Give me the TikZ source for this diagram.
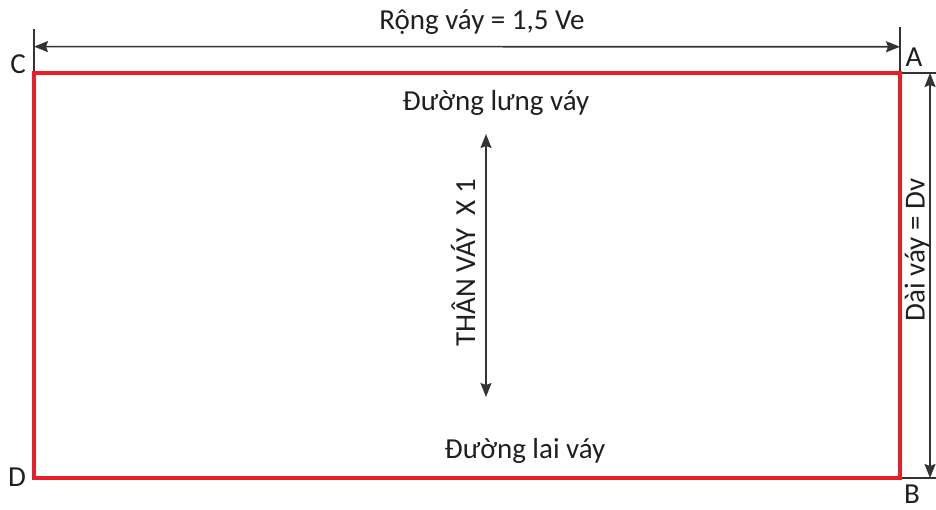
\documentclass[tikz,border=0pt]{standalone}
\usepackage{fontspec}
\setmainfont{Carlito}
\usepackage{tikz}
\usetikzlibrary{arrows.meta,positioning,calc}
\definecolor{vienred}{RGB}{232,30,40}

\begin{document}
\begin{tikzpicture}[x=1pt, y=-1pt,
  lbl/.style={font=\fontsize{29}{33}\selectfont, text=black!88, inner sep=0pt},
  vien/.style={draw=vienred, line width=3.5pt},
  dim/.style={draw=black!80, line width=1.6pt},
  mui/.style={dim, {Stealth[length=14pt,width=11pt,inset=2pt]}-{Stealth[length=14pt,width=11pt,inset=2pt]}}]
\useasboundingbox (0,0) rectangle (936,509);

% các góc
\coordinate (C) at (34,73);
\coordinate (A) at (900,73);
\coordinate (B) at (900,478);
\coordinate (D) at (34,478);
\coordinate (Ctop) at (34,29);
\coordinate (Atop) at (900,27);
\coordinate (Aend) at (936,73);
\coordinate (Bend) at (936,478);

% đường gióng
\draw[dim] (C) -- (Ctop);
\draw[dim] (A) -- (Atop);
\draw[dim] (A) -- (Aend);
\draw[dim] (B) -- (Bend);

% thân váy
\draw[vien] (C) -- (A) -- (B) -- (D) -- cycle;

% nhãn góc
\node[lbl] (lC) at (18,64) {C};
\node[lbl] (lA) at (914,57) {A};
\node[lbl] (lD) at (17,477) {D};
\node[lbl] (lB) at (912,494) {B};

% kích thước
\draw[mui] ($(Ctop)!0.4!(C)$) -- ($(Atop)!0.43!(A)$) coordinate[midway] (mtop);
\node[lbl] (rong) at (482,22) {Rộng váy = 1,5 Ve};
\draw[mui] (930,73) -- (930,478);
\node[lbl, rotate=90] (dai) at (917,250) {Dài váy = Dv};

% chữ bên trong
\node[lbl] (lung) at (496,103) {Đường lưng váy};
\node[lbl] (lai) at (525,451) {Đường lai váy};
\coordinate (stop) at (486,134);
\coordinate (sbot) at (486,397);
\draw[mui] (stop) -- (sbot);
\node[lbl, rotate=90] (than) at (463,263) {THÂN VÁY\ \ X 1};
\end{tikzpicture}
\end{document}
